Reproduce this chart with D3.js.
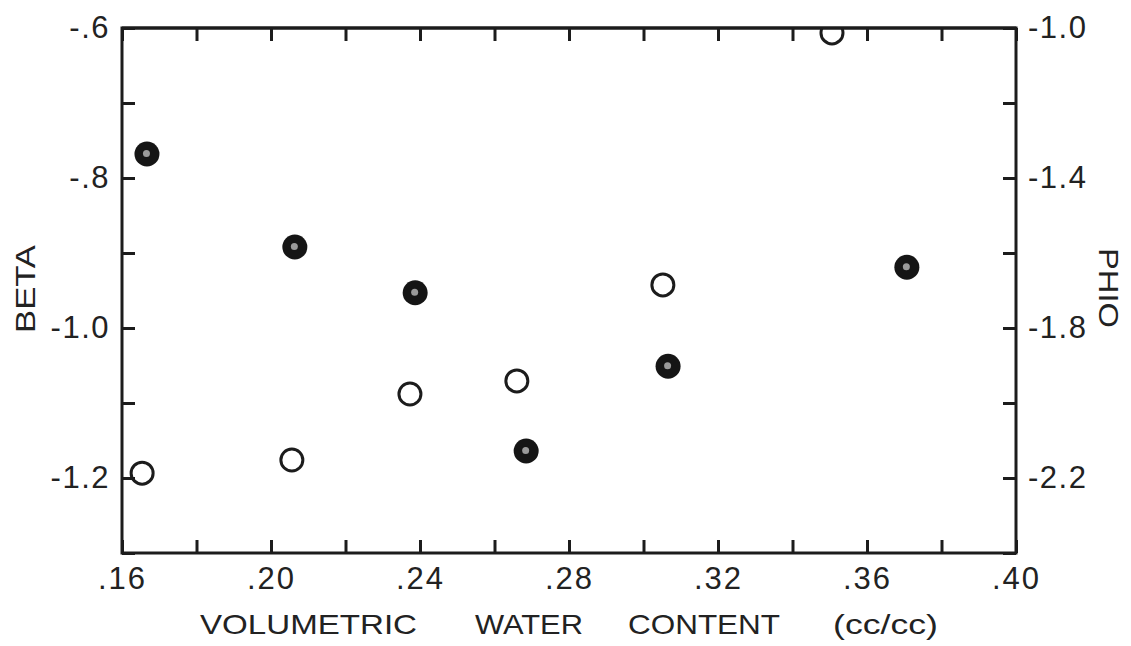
<!DOCTYPE html>
<html>
<head>
<meta charset="utf-8">
<script src="https://cdn.jsdelivr.net/npm/d3@7/dist/d3.min.js"></script>
<style>
  html, body { margin: 0; padding: 0; background: #fff; }
  svg { display: block; }
  text { font-family: "Liberation Sans", Arial, sans-serif; fill: #222; }
</style>
</head>
<body>
<svg id="chart" width="1131" height="646"></svg>
<script>
// Volumetric water content (cc/cc) for each series
const betaWater = [0.1667, 0.2064, 0.2387, 0.2685, 0.3066, 0.3707];
const betaValues = [-0.768, -0.892, -0.953, -1.164, -1.051, -0.919];

const phioWater = [0.1654, 0.2056, 0.2373, 0.2660, 0.3052, 0.3506];
const phioValues = [-2.187, -2.152, -1.976, -1.941, -1.685, -1.013];

// Axis ticks and labels
const xTicks = [0.16, 0.18, 0.20, 0.22, 0.24, 0.26, 0.28, 0.30, 0.32, 0.34, 0.36, 0.38, 0.40];
const xLabelTicks = [0.16, 0.20, 0.24, 0.28, 0.32, 0.36, 0.40];
const betaTicks = [-0.6, -0.7, -0.8, -0.9, -1.0, -1.1, -1.2, -1.3];
const betaLabelTicks = [-0.6, -0.8, -1.0, -1.2];
const phioTicks = [-1.0, -1.2, -1.4, -1.6, -1.8, -2.0, -2.2, -2.4];
const phioLabelTicks = [-1.0, -1.4, -1.8, -2.2];

const plotLeft = 122, plotRight = 1016, plotTop = 28, plotBottom = 553;
const ink = "#1c1c1c";

const svg = d3.select("#chart");

const x = d3.scaleLinear().domain([0.16, 0.40]).range([plotLeft, plotRight]);
const yBeta = d3.scaleLinear().domain([-0.6, -1.3]).range([plotTop, plotBottom]);
const yPhio = d3.scaleLinear().domain([-1.0, -2.4]).range([plotTop, plotBottom]);

const isIn = (arr, v) => arr.some(a => Math.abs(a - v) < 1e-9);
const fmtX = v => isIn(xLabelTicks, v) ? v.toFixed(2).replace(/^0/, "") : "";
const fmtBeta = v => {
  if (!isIn(betaLabelTicks, v)) return "";
  return Math.abs(v) < 1 ? "-" + Math.abs(v).toFixed(1).replace(/^0/, "") : v.toFixed(1);
};
const fmtPhio = v => isIn(phioLabelTicks, v) ? v.toFixed(1) : "";

const tickLen = 13;

function styleAxis(g) {
  g.select(".domain").remove();
  g.selectAll(".tick line").attr("stroke", ink).attr("stroke-width", 3);
  g.selectAll(".tick text")
    .style("font-family", '"Liberation Sans", Arial, sans-serif')
    .style("letter-spacing", "1.5px")
    .attr("font-size", 31).attr("fill", ink);
}

// Bottom axis, ticks pointing into the plot
svg.append("g")
  .attr("transform", `translate(0,${plotBottom})`)
  .call(d3.axisBottom(x).tickValues(xTicks).tickFormat(fmtX)
    .tickSizeInner(-tickLen).tickSizeOuter(0).tickPadding(14))
  .call(styleAxis)
  .call(g => g.selectAll(".tick text").style("letter-spacing", "2px"));

// Top axis, ticks only
svg.append("g")
  .attr("transform", `translate(0,${plotTop})`)
  .call(d3.axisTop(x).tickValues(xTicks).tickFormat(() => "")
    .tickSizeInner(-tickLen).tickSizeOuter(0))
  .call(styleAxis);

// Left axis: BETA
svg.append("g")
  .attr("transform", `translate(${plotLeft},0)`)
  .call(d3.axisLeft(yBeta).tickValues(betaTicks).tickFormat(fmtBeta)
    .tickSizeInner(-tickLen).tickSizeOuter(0).tickPadding(12))
  .call(styleAxis);

// Right axis: PHIO
svg.append("g")
  .attr("transform", `translate(${plotRight},0)`)
  .call(d3.axisRight(yPhio).tickValues(phioTicks).tickFormat(fmtPhio)
    .tickSizeInner(-tickLen).tickSizeOuter(0).tickPadding(12))
  .call(styleAxis);

// Plot frame
svg.append("rect")
  .attr("x", plotLeft).attr("y", plotTop)
  .attr("width", plotRight - plotLeft).attr("height", plotBottom - plotTop)
  .attr("fill", "none").attr("stroke", ink).attr("stroke-width", 3);

// Markers are kept inside the frame
svg.append("clipPath").attr("id", "plotClip")
  .append("rect")
  .attr("x", plotLeft).attr("y", plotTop + 1)
  .attr("width", plotRight - plotLeft).attr("height", plotBottom - plotTop);

const marks = svg.append("g").attr("clip-path", "url(#plotClip)");

// PHIO: open circles
marks.selectAll("circle.phio")
  .data(phioWater.map((w, i) => ({ w, v: phioValues[i] })))
  .join("circle")
  .attr("class", "phio")
  .attr("cx", d => x(d.w))
  .attr("cy", d => yPhio(d.v))
  .attr("r", 11)
  .attr("fill", "none")
  .attr("stroke", ink)
  .attr("stroke-width", 3);

// BETA: filled circles with a pale speck in the middle
const beta = marks.selectAll("g.beta")
  .data(betaWater.map((w, i) => ({ w, v: betaValues[i] })))
  .join("g")
  .attr("class", "beta")
  .attr("transform", d => `translate(${x(d.w)},${yBeta(d.v)})`);
beta.append("circle").attr("r", 12.5).attr("fill", "#151515");
beta.append("circle").attr("r", 3.5).attr("cx", -0.5).attr("cy", -0.5).attr("fill", "#9a9a9a");

// Frame line redrawn over markers along the top
svg.append("line")
  .attr("x1", plotLeft).attr("x2", plotRight).attr("y1", plotTop).attr("y2", plotTop)
  .attr("stroke", ink).attr("stroke-width", 3);

// Axis titles
const xTitle = svg.append("text")
  .attr("y", 634)
  .attr("font-size", 28)
  .attr("fill", ink);
[
  { t: "VOLUMETRIC", x: 200, w: 217 },
  { t: "WATER", x: 475, w: 108 },
  { t: "CONTENT", x: 628, w: 152 },
  { t: "(cc/cc)", x: 833, w: 105 }
].forEach(p => {
  xTitle.append("tspan").attr("x", p.x).attr("textLength", p.w)
    .attr("lengthAdjust", "spacingAndGlyphs").text(p.t);
});

svg.append("text")
  .attr("transform", "translate(35,289) rotate(-90)")
  .attr("text-anchor", "middle")
  .attr("font-size", 28)
  .attr("textLength", 88)
  .attr("lengthAdjust", "spacingAndGlyphs")
  .attr("fill", ink)
  .text("BETA");

svg.append("text")
  .attr("transform", "translate(1099,288) rotate(90)")
  .attr("text-anchor", "middle")
  .attr("font-size", 28)
  .attr("textLength", 80)
  .attr("lengthAdjust", "spacingAndGlyphs")
  .attr("fill", ink)
  .text("PHIO");
</script>
</body>
</html>
